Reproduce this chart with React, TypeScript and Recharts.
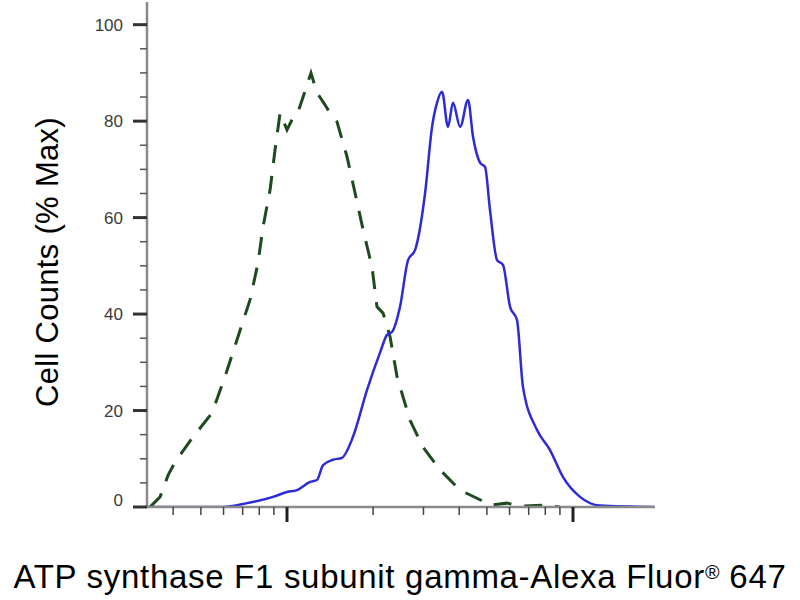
import { LineChart, Line, XAxis, YAxis } from 'recharts';

// fluorescence intensity (log axis) vs % of max cell count
const isotypeX = [332, 360, 384, 406, 469, 547, 607, 674, 743, 792, 824, 873, 908, 946, 1000, 1041, 1084, 1146, 1213, 1273, 1337, 1391, 1495, 1622, 1730, 1845, 1982, 2064, 2167, 2293, 2425, 2692, 2990, 3430, 4029, 4730, 5130, 5880, 6530, 7980, 9010];
const isotypeY = [0, 2.1, 6.6, 9.3, 14.5, 19.5, 27, 35.3, 43, 50.6, 58, 65.8, 74, 81.7, 78.2, 80.3, 81.3, 85.5, 90, 85.9, 84, 82.4, 79.9, 72.6, 65.1, 57.5, 49.8, 41.5, 40.2, 35.3, 27, 18, 12.4, 7.7, 3.5, 1.5, 0.4, 0.8, 0.2, 0.4, 0];

const stainedX = [324, 597, 725, 894, 1000, 1084, 1204, 1273, 1337, 1449, 1557, 1700, 1905, 2115, 2238, 2330, 2484, 2650, 2805, 3040, 3215, 3345, 3485, 3655, 3805, 4030, 4295, 4470, 4730, 4925, 5125, 5425, 5690, 6025, 6370, 6685, 7480, 8310, 9230, 10580, 12420, 19350];
const stainedY = [0, 0, 0.8, 2.1, 3.1, 3.5, 5.2, 5.6, 8.7, 9.8, 10.2, 14.5, 24.3, 32, 35.7, 36.3, 41.5, 51.2, 53.3, 65.1, 78.8, 83.8, 86.1, 78.8, 83.8, 78.8, 84.4, 76.8, 71.4, 70.5, 61.6, 51.2, 50.2, 41.5, 38.8, 24.9, 16, 11.8, 6.2, 2.1, 0.3, 0];

const xTicks = [400, 500, 600, 700, 800, 900, 1000, 2000, 3000, 4000, 5000, 6000, 7000, 8000, 9000, 10000];
const xMajor = [1000, 10000];
const yTicks = [0, 5, 10, 15, 20, 25, 30, 35, 40, 45, 50, 55, 60, 65, 70, 75, 80, 85, 90, 95, 100];
const yMajor = [0, 20, 40, 60, 80, 100];

const isotype = isotypeX.map((x, i) => ({ x, y: isotypeY[i] }));
const stained = stainedX.map((x, i) => ({ x, y: stainedY[i] }));

const YTick = ({ x, y, payload }: any) => {
  const major = yMajor.includes(payload.value);
  if (!major) {
    return <line x1={x - 7} x2={x} y1={y} y2={y} stroke="#555" strokeWidth={1.5} />;
  }
  return (
    <g>
      <line x1={x - 14} x2={x} y1={y} y2={y} stroke="#333" strokeWidth={3} />
      <text x={x - 24} y={payload.value === 0 ? y - 7 : y} dy={6} textAnchor="end"
        fontFamily="Liberation Sans, Arial" fontSize={17} fill="#3a3a3a">
        {payload.value}
      </text>
    </g>
  );
};

const XTick = ({ x, y, payload }: any) => {
  const major = xMajor.includes(payload.value);
  return major
    ? <line x1={x} x2={x} y1={y} y2={y + 15} stroke="#222" strokeWidth={3} />
    : <line x1={x} x2={x} y1={y} y2={y + 8} stroke="#444" strokeWidth={1.5} />;
};

export default function App() {
  return (
    <div style={{ position: 'absolute', left: 0, top: 0, width: 800, height: 600, background: '#fff', fontFamily: 'Liberation Sans, Arial, sans-serif' }}>
      <LineChart width={800} height={600} data={stained}
        margin={{ top: 2, right: 145, bottom: 63, left: 87 }}>
        <XAxis dataKey="x" type="number" scale="log" domain={[324, 19350]} allowDataOverflow
          ticks={xTicks} interval={0} tick={<XTick />} tickLine={false} tickSize={0} tickMargin={0}
          height={30} axisLine={{ stroke: '#8a8a8a', strokeWidth: 2.5 }} />
        <XAxis xAxisId="top" orientation="top" dataKey="x" type="number" scale="log" domain={[324, 19350]}
          allowDataOverflow tick={false} tickLine={false} height={0} axisLine={{ stroke: '#9a9a9a', strokeWidth: 2 }} />
        <YAxis dataKey="y" type="number" domain={[0, 104.7]} allowDataOverflow
          ticks={yTicks} interval={0} tick={<YTick />} tickLine={false} tickSize={0} tickMargin={0}
          width={60} axisLine={{ stroke: '#8a8a8a', strokeWidth: 2.5 }} />
        <YAxis yAxisId="right" orientation="right" domain={[0, 104.7]} tick={false} tickLine={false}
          width={0} axisLine={{ stroke: '#9a9a9a', strokeWidth: 2 }} />
        <Line data={isotype} dataKey="y" type="linear" stroke="#1f4a1f" strokeWidth={3}
          strokeDasharray="18 13" dot={false} isAnimationActive={false} />
        <Line data={stained} dataKey="y" type="monotone" stroke="#2b2bd8" strokeWidth={2.5}
          dot={false} isAnimationActive={false} />
      </LineChart>
      <div style={{ position: 'absolute', left: 48, top: 262, transform: 'translate(-50%, -50%) rotate(-90deg)',
        whiteSpace: 'nowrap', fontSize: 31, letterSpacing: 0.3, color: '#000' }}>
        Cell Counts (% Max)
      </div>
      <div style={{ position: 'absolute', left: 0, width: 800, top: 558, textAlign: 'center',
        whiteSpace: 'nowrap', fontSize: 33, letterSpacing: 0.7, color: '#000' }}>
        ATP synthase F1 subunit gamma-Alexa Fluor
        <span style={{ fontSize: '0.6em', verticalAlign: '0.45em', letterSpacing: 0 }}>®</span> 647
      </div>
    </div>
  );
}
